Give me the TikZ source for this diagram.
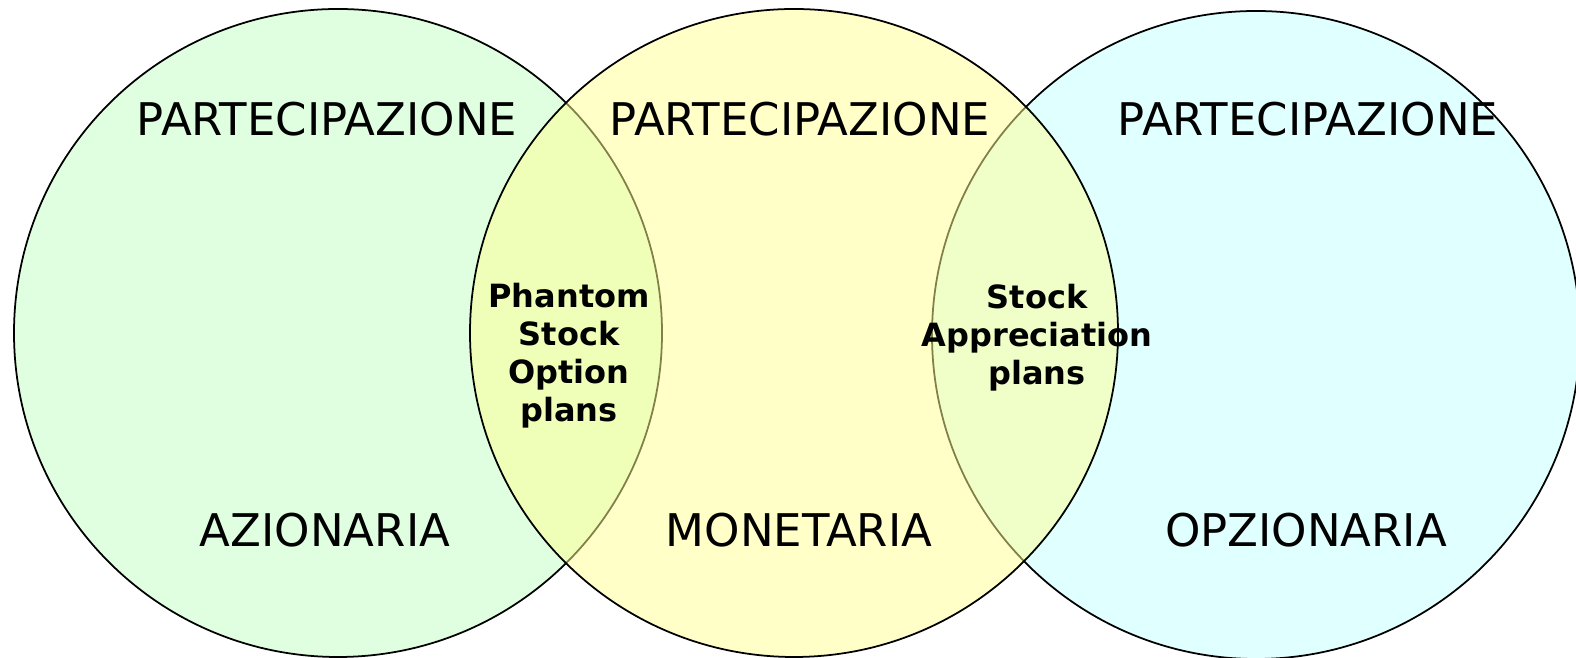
\documentclass[tikz,border=0pt]{standalone}
\usepackage{fontspec}
\setmainfont{DejaVu Sans}
\usepackage{tikz}
\usetikzlibrary{positioning}
\usepackage{xcolor}
\definecolor{vgreen}{HTML}{E0FFE0}
\definecolor{vyellow}{HTML}{FFFF90}
\definecolor{vcyan}{HTML}{E0FFFF}
\tikzset{
  venn/.style={draw=black, line width=0.5pt},
  setlabel/.style={font=\fontsize{12.8}{15}\selectfont, inner sep=0pt},
  lenslabel/.style={font=\fontsize{9.1}{10.8}\selectfont\bfseries, align=center, inner sep=0pt}
}

\begin{document}
\begin{tikzpicture}[x=0.01cm, y=0.01cm]
			\useasboundingbox (0,0) rectangle (1576,658);
			\draw [venn, fill=vgreen] (338,325) circle [radius=324];
			\draw [venn, fill=vcyan] (1256,323) circle [radius=324];
			\draw [venn, fill=vyellow, fill opacity=0.5] (794,325) circle [radius=324];
			% labels of the three sets
			\node [setlabel] (partA) at (327,539) {PARTECIPAZIONE};
			\node [setlabel] (partM) at (800,539) {PARTECIPAZIONE};
			\node [setlabel] (partO) at (1308,539) {PARTECIPAZIONE};
			\node [setlabel] (azion) at (325,128) {AZIONARIA};
			\node [setlabel] (monet) at (799,128) {MONETARIA};
			\node [setlabel] (opzion) at (1306,128) {OPZIONARIA};
			% intersections
			\node [lenslabel] (phantom) at (569,302) {Phantom\\Stock\\Option\\plans};
			\node [lenslabel] (sar) at (1037,320) {Stock\\Appreciation\\plans};
		\end{tikzpicture}
\end{document}
